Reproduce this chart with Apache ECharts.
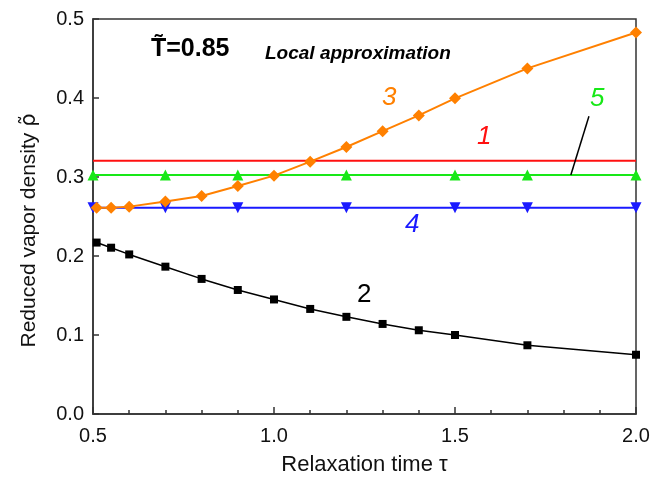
<!DOCTYPE html>
<html>
<head>
<meta charset="utf-8">
<script src="https://cdn.jsdelivr.net/npm/echarts@6/dist/echarts.min.js"></script>
<style>
html, body { margin: 0; padding: 0; background: #fff; }
#chart { width: 651px; height: 477px; }
</style>
</head>
<body>
<div id="chart"></div>
<script>
// data
var tau2 = [0.51, 0.55, 0.6, 0.7, 0.8, 0.9, 1.0, 1.1, 1.2, 1.3, 1.4, 1.5, 1.7, 2.0];
var rho2 = [0.217, 0.2105, 0.202, 0.1865, 0.171, 0.157, 0.145, 0.133, 0.123, 0.114, 0.106, 0.100, 0.087, 0.075];
var tau3 = [0.51, 0.55, 0.6, 0.7, 0.8, 0.9, 1.0, 1.1, 1.2, 1.3, 1.4, 1.5, 1.7, 2.0];
var rho3 = [0.261, 0.261, 0.2625, 0.269, 0.276, 0.2886, 0.3017, 0.3194, 0.338, 0.358, 0.378, 0.3996, 0.4375, 0.483];
var tau1 = [0.5, 2.0];
var rho1 = [0.3206, 0.3206];
var tauMarks = [0.5, 0.7, 0.9, 1.2, 1.5, 1.7, 2.0];
var rho4 = [0.261, 0.261, 0.261, 0.261, 0.261, 0.261, 0.261];
var rho5 = [0.3025, 0.3025, 0.3025, 0.3025, 0.3025, 0.3025, 0.3025];
var leaderTau = [1.87, 1.82];
var leaderRho = [0.377, 0.3025];

function pairs(xs, ys) {
    return xs.map(function(x, i) { return [x, ys[i]]; });
}

var chart = echarts.init(document.getElementById('chart'));
var font = 'Liberation Sans, Arial, sans-serif';
var axisColor = '#333';

var option = {
    animation: false,
    grid: {
        left: 93,
        right: 15,
        top: 19,
        bottom: 63,
        outerBoundsMode: 'none',
        containLabel: false,
        show: true,
        borderColor: axisColor,
        borderWidth: 1.5
    },
    xAxis: {
        type: 'value',
        min: 0.5,
        max: 2.0,
        interval: 0.5,
        name: 'Relaxation time \u03c4',
        nameLocation: 'middle',
        nameGap: 40,
        nameTextStyle: { fontFamily: font, fontSize: 22, color: '#111' },
        axisLine: { show: true, onZero: false, lineStyle: { color: axisColor, width: 1.5 } },
        axisTick: { show: true, inside: true, length: 7, lineStyle: { color: axisColor, width: 1.5 } },
        minorTick: { show: true, splitNumber: 5, length: 4, lineStyle: { color: axisColor, width: 1.5 } },
        splitLine: { show: false },
        axisLabel: {
            fontFamily: font, fontSize: 20, color: '#111', margin: 12,
            formatter: function(v) { return v.toFixed(1); }
        }
    },
    yAxis: {
        type: 'value',
        min: 0,
        max: 0.5,
        interval: 0.1,
        name: '{a|Reduced vapor density }{b|\u03c1\u0303}',
        nameLocation: 'middle',
        nameGap: 53,
        nameTextStyle: {
            fontFamily: font, fontSize: 21, color: '#111',
            padding: [0, 28, 0, 0],
            rich: {
                a: { fontFamily: font, fontSize: 21, color: '#111' },
                b: { fontFamily: 'DejaVu Sans', fontSize: 21, color: '#111' }
            }
        },
        axisLine: { show: true, lineStyle: { color: axisColor, width: 1.5 } },
        axisTick: { show: true, inside: true, length: 6, lineStyle: { color: axisColor, width: 1.5 } },
        splitLine: { show: false },
        axisLabel: {
            fontFamily: font, fontSize: 20, color: '#111', margin: 9,
            formatter: function(v) { return v.toFixed(1); }
        }
    },
    series: [
        {
            name: '1', type: 'line', data: pairs(tau1, rho1),
            showSymbol: false, lineStyle: { color: '#ff1010', width: 2 }, z: 2
        },
        {
            name: '5', type: 'line', data: pairs(tauMarks, rho5),
            symbol: 'triangle', symbolSize: 11,
            itemStyle: { color: '#18e818' }, lineStyle: { color: '#18e818', width: 2 }, z: 3
        },
        {
            name: '4', type: 'line', data: pairs(tauMarks, rho4),
            symbol: 'triangle', symbolRotate: 180, symbolSize: 11,
            itemStyle: { color: '#1a1aff' }, lineStyle: { color: '#1a1aff', width: 2 }, z: 4
        },
        {
            name: '2', type: 'line', data: pairs(tau2, rho2),
            symbol: 'rect', symbolSize: 8,
            itemStyle: { color: '#000' }, lineStyle: { color: '#000', width: 1.5 }, z: 5
        },
        {
            name: '3', type: 'line', data: pairs(tau3, rho3),
            symbol: 'diamond', symbolSize: 12,
            itemStyle: { color: '#ff8000' }, lineStyle: { color: '#ff8000', width: 2 }, z: 6
        },
        {
            name: 'leader', type: 'line', data: pairs(leaderTau, leaderRho),
            showSymbol: false, lineStyle: { color: '#000', width: 1.5 }, z: 7
        }
    ],
    graphic: [
        { type: 'text', left: 151, top: 37, style: { text: 'T\u0303=0.85', font: 'bold 25px ' + font, fill: '#000' } },
        { type: 'text', left: 265, top: 44, style: { text: 'Local approximation', font: 'italic bold 19px ' + font, fill: '#000' } },
        { type: 'text', left: 477, top: 124, style: { text: '1', font: 'italic 26px ' + font, fill: '#ff1010' } },
        { type: 'text', left: 357, top: 282, style: { text: '2', font: '26px ' + font, fill: '#000' } },
        { type: 'text', left: 382, top: 85, style: { text: '3', font: 'italic 26px ' + font, fill: '#ff8000' } },
        { type: 'text', left: 405, top: 212, style: { text: '4', font: 'italic 26px ' + font, fill: '#1a1aff' } },
        { type: 'text', left: 590, top: 86, style: { text: '5', font: 'italic 26px ' + font, fill: '#18e818' } }
    ]
};

chart.setOption(option);
</script>
</body>
</html>
